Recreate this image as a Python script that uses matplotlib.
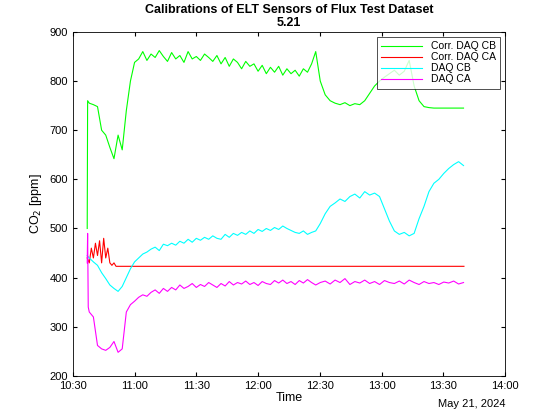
import numpy as np
import matplotlib
matplotlib.use("Agg")
import matplotlib.pyplot as plt
import matplotlib.dates as mdates
from datetime import datetime, timedelta

plt.rcParams['font.family'] = ['Liberation Sans', 'DejaVu Sans']

base = datetime(2024, 5, 21, 10, 30)
grid_min = np.concatenate([np.arange(8, 119, 2), np.linspace(120.2, 189.8, 30)])  # minutes after 10:30

green = [755,752,748,700,690,665,642,690,660,740,
         800,838,845,860,842,855,848,862,850,840,
         858,845,852,838,860,845,850,842,855,848,
         840,852,835,848,830,845,838,825,840,830,
         835,820,832,815,828,818,830,812,825,815,
         822,810,825,818,835,860,
         800,772,760,755,752,756,750,754,752,760,
         775,790,800,808,815,822,812,820,842,790,
         760,748,746,745,745,745,745,745,745,745]
cyan = [440,432,425,410,398,385,378,372,382,400,
        418,432,440,448,452,458,462,455,468,465,
        470,466,474,470,478,472,480,476,482,478,
        485,480,478,488,482,490,486,492,488,495,
        490,498,494,500,496,502,498,505,500,496,
        492,490,495,488,492,495,
        510,530,545,552,560,555,565,570,562,575,
        568,572,565,540,515,495,488,492,485,490,
        520,545,575,592,600,612,622,630,636,628]
magenta = [330,320,262,255,252,258,270,248,255,330,
           345,352,360,365,362,370,375,368,378,372,
           380,375,385,378,382,388,380,386,382,390,
           385,380,388,383,392,385,390,387,393,386,
           390,384,392,388,386,394,389,395,388,392,
           386,394,389,396,390,385,
           390,393,387,395,390,398,386,392,389,395,
           388,392,386,394,390,388,393,387,395,390,
           386,392,388,390,386,391,389,393,387,390]
green_pre_t = [7.0, 7.2]; green_pre = [500, 760]
cyan_pre_t = [7.0]; cyan_pre = [445]
mag_pre_t = [7.0, 7.2, 7.5]; mag_pre = [430, 490, 340]
red_t = [7,8,9,10,11,12,13,14,15,16,17,18,19,20,21,22,190]
red = [440,430,460,440,470,445,475,430,480,440,460,430,425,430,423,423,423]

def to_dt(mins):
    return [base + timedelta(minutes=float(m)) for m in mins]

fig = plt.figure(figsize=(5.6, 4.2), dpi=100)
ax = fig.add_axes([0.13, 0.105, 0.772, 0.819])
ax.plot(to_dt(list(green_pre_t) + list(grid_min)), green_pre + green, color='#00ff00', lw=0.8, label='Corr. DAQ CB')
ax.plot(to_dt(red_t), red, color='#ff0000', lw=0.8, label='Corr. DAQ CA')
ax.plot(to_dt(list(cyan_pre_t) + list(grid_min)), cyan_pre + cyan, color='#00ffff', lw=0.8, label='DAQ CB')
ax.plot(to_dt(list(mag_pre_t) + list(grid_min)), mag_pre + magenta, color='#ff00ff', lw=0.8, label='DAQ CA')

ax.set_xlim(base, base + timedelta(minutes=210))
ax.set_ylim(200, 900)
ax.set_yticks(range(200, 901, 100))
ax.xaxis.set_major_locator(mdates.MinuteLocator(byminute=[0, 30]))
ax.xaxis.set_major_formatter(mdates.DateFormatter('%H:%M'))
ax.tick_params(direction='in', labelsize=8, length=3, top=True, right=True)
for s in ax.spines.values():
    s.set_linewidth(0.6)
ax.set_xlabel('Time', fontsize=9, labelpad=1)
ax.set_ylabel('CO$_2$ [ppm]', fontsize=9)
ax.set_title('Calibrations of ELT Sensors of Flux Test Dataset\n5.21', fontsize=9, fontweight='bold', pad=4)
fig.text(0.902, 0.03, 'May 21, 2024', fontsize=8, ha='right')
leg = ax.legend(loc='upper right', fontsize=7.5, fancybox=False, edgecolor='black',
                borderaxespad=0.5, handlelength=4, labelspacing=0.1)
leg.get_frame().set_linewidth(0.6)
fig.savefig('out.png', dpi=100)
